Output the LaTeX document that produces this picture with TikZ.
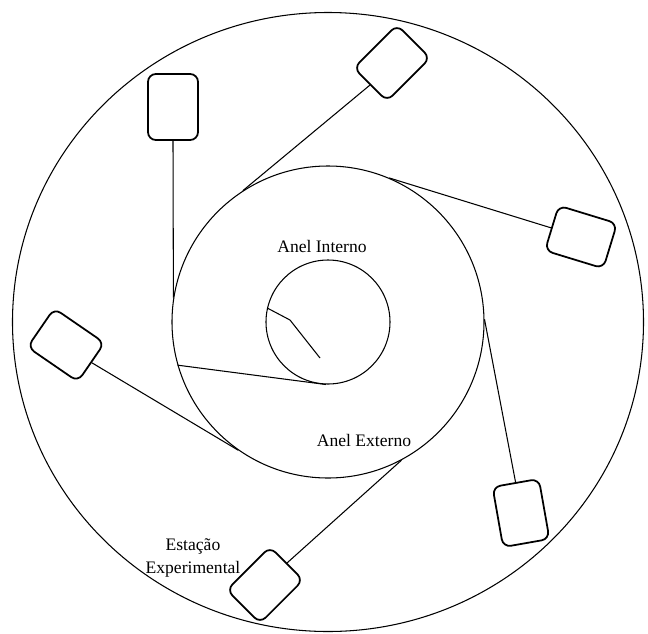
\documentclass[tikz,border=0pt]{standalone}
\usepackage{fontspec}
\setmainfont{Liberation Serif}
\usepackage{tikz}
\usetikzlibrary{shapes.geometric, positioning, calc}

\begin{document}
\begin{tikzpicture}[
  ring/.style={circle, draw, line width=0.6pt, inner sep=0pt},
  station/.style={rectangle, draw, line width=1pt, rounded corners=4.5pt, minimum width=0.94cm, minimum height=1.22cm, inner sep=0pt},
  link/.style={draw, line width=0.6pt},
  label/.style={font=\fontsize{10}{13.5}\selectfont, align=center}
]
  \useasboundingbox (-6.56,-6.22) rectangle (6.40,6.44);
  % rings
  \node[ellipse, draw, line width=0.6pt, inner sep=0pt, minimum width=12.62cm, minimum height=12.38cm] (salao) at (0,0) {};
  \node[ring, minimum size=6.24cm] (externo) at (0,0) {};
  \node[ring, minimum size=2.48cm] (interno) at (0,0) {};
  \coordinate (dobra) at (-0.76,0.04);
  \coordinate (ponta) at (-0.16,-0.72);
  \draw[link] (interno.167) -- (dobra) -- (ponta);
  \draw[link] (externo.196) -- (interno.268);
  % stations
  \node[station, minimum width=1cm, minimum height=1.32cm] (e1) at (-3.10,4.30) {};
  \node[station, rotate=-45] (e2) at (1.28,5.18) {};
  \node[station, rotate=73] (e3) at (5.06,1.70) {};
  \node[station, rotate=55.5] (e4) at (-5.24,-0.46) {};
  \node[station, rotate=-45] (e5) at (-1.26,-5.26) {};
  \node[station, rotate=10] (e6) at (3.86,-3.82) {};
  \draw[link] (e1.south) -- (externo.171);
  \draw[link] (e2.south) -- (externo.123);
  \draw[link] (e3.north) -- (externo.67);
  \draw[link] (e4.south) -- (externo.235);
  \draw[link] (e5.north) -- (externo.-62);
  \draw[link] (e6.north) -- (externo.1);
  % labels
  \node[label] (tInterno) at (-0.12,1.52) {Anel Interno};
  \node[label] (tExterno) at (0.72,-2.36) {Anel Externo};
  \node[label] (tEstacao) at (-2.70,-4.72) {Estação\\Experimental};
\end{tikzpicture}
\end{document}
